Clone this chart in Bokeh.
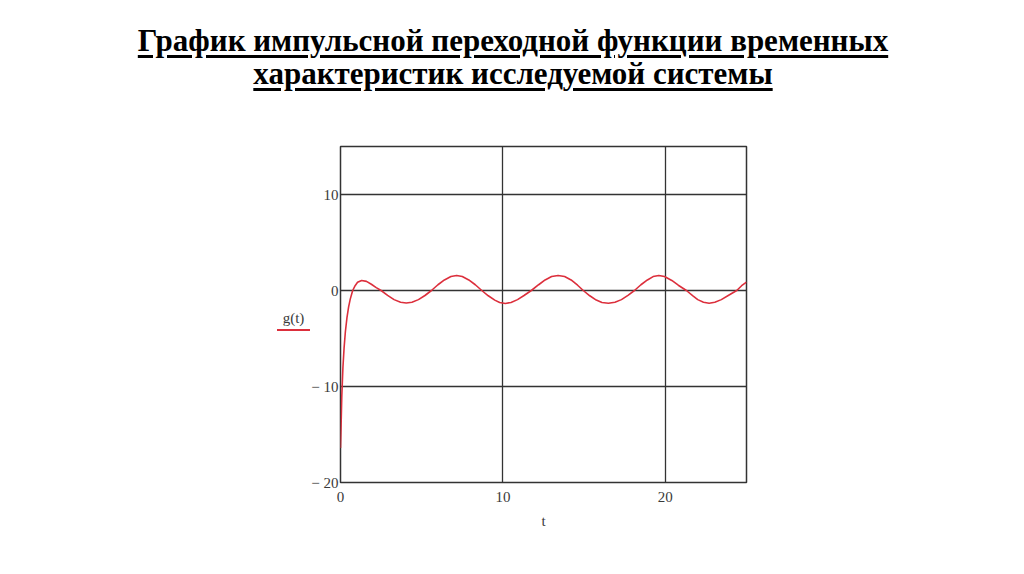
from bokeh.plotting import figure
from bokeh.models import Div, FixedTicker, Range1d
from bokeh.layouts import column
from bokeh.embed import file_html
from bokeh.resources import INLINE

# title lines
title_lines = ["График импульсной переходной функции временных",
               "характеристик исследуемой системы"]
trace_name = "g(t)"

# g(t)
t = [0.0, 0.03, 0.08, 0.15, 0.22, 0.3, 0.4, 0.5, 0.6, 0.75, 0.9, 1.05, 1.3,
     1.6, 1.9, 2.2, 2.5, 2.9, 3.3, 3.7, 4.05, 4.4, 4.8, 5.2, 5.6, 6.0, 6.4,
     6.8, 7.15, 7.5, 7.9, 8.3, 8.7, 9.1, 9.5, 9.8, 10.15, 10.5, 10.9, 11.3,
     11.75, 12.2, 12.6, 13.0, 13.4, 13.8, 14.2, 14.6, 14.95, 15.35, 15.75,
     16.1, 16.5, 16.9, 17.3, 17.7, 18.1, 18.5, 18.9, 19.25, 19.6, 19.95,
     20.4, 20.8, 21.3, 21.7, 22.0, 22.35, 22.7, 23.05, 23.45, 23.9, 24.4,
     24.7, 25.0]
g = [-16.4, -14.5, -11.0, -8.0, -6.0, -4.3, -2.8, -1.7, -0.9, 0.0, 0.5, 0.85,
     1.05, 0.95, 0.65, 0.3, 0.0, -0.5, -0.95, -1.22, -1.3, -1.22, -0.95,
     -0.52, 0.0, 0.6, 1.1, 1.45, 1.57, 1.45, 1.1, 0.6, 0.0, -0.55, -1.0,
     -1.25, -1.35, -1.25, -0.95, -0.52, 0.0, 0.6, 1.1, 1.45, 1.57, 1.45, 1.1,
     0.55, 0.0, -0.55, -1.0, -1.25, -1.33, -1.22, -0.95, -0.5, 0.0, 0.6, 1.1,
     1.45, 1.57, 1.45, 1.05, 0.55, 0.0, -0.55, -0.95, -1.22, -1.32, -1.22,
     -0.95, -0.5, 0.0, 0.5, 0.87]

x_ticks = [0, 10, 20]
y_ticks = [-20, -10, 0, 10]
y_tick_labels = {-20: "\u2212 20", -10: "\u2212 10", 0: "0", 10: "10"}

serif = "Liberation Serif"
grid_col = "#333333"
curve_col = "#dc2f3c"
text_col = "#3a3a3a"

title_html = ('<div style="width:1016px;font-family:\'%s\';font-weight:bold;'
              'font-size:31px;line-height:33px;text-align:center;color:#000;'
              'text-decoration:underline;text-decoration-thickness:3px;'
              'text-underline-offset:4px;padding-top:19px;">%s<br>%s</div>'
              % (serif, title_lines[0], title_lines[1]))
# Mathcad-style trace label left of the plot: name above a short red line
trace_html = ('<div style="position:absolute;left:272px;top:304px;width:33px;'
              'z-index:10;font-family:\'%s\';font-size:15px;line-height:18px;'
              'text-align:center;color:%s;">%s'
              '<div style="height:2px;margin-top:2px;background:%s;"></div>'
              '</div>' % (serif, text_col, trace_name, curve_col))

head = Div(text=title_html + trace_html, width=1016, height=110,
           styles={"overflow": "visible", "position": "relative",
                   "z-index": "10"})

p = figure(width=1016, height=440, output_backend="svg",
           toolbar_location=None,
           x_range=Range1d(0, 25), y_range=Range1d(-20, 15),
           min_border_left=340, min_border_right=270,
           min_border_top=26, min_border_bottom=78)

p.outline_line_color = grid_col
p.outline_line_width = 1.5

for ax in (p.xaxis, p.yaxis):
    ax.axis_line_color = None
    ax.major_tick_line_color = None
    ax.minor_tick_line_color = None
    ax.major_label_text_font = serif
    ax.major_label_text_font_size = "15px"
    ax.major_label_text_color = text_col
    ax.major_label_standoff = 3

p.xaxis.ticker = FixedTicker(ticks=x_ticks)
p.yaxis.ticker = FixedTicker(ticks=y_ticks)
p.yaxis.major_label_overrides = y_tick_labels
p.yaxis.major_label_standoff = -4

p.xaxis.axis_label = "t"
p.xaxis.axis_label_text_font = serif
p.xaxis.axis_label_text_font_style = "normal"
p.xaxis.axis_label_text_font_size = "15px"
p.xaxis.axis_label_text_color = text_col
p.xaxis.axis_label_standoff = 8

p.xgrid.ticker = FixedTicker(ticks=x_ticks)
p.ygrid.ticker = FixedTicker(ticks=y_ticks)
p.grid.grid_line_color = grid_col
p.grid.grid_line_width = 1.3

p.line(t, g, line_color=curve_col, line_width=1.6)

layout = column(head, p, spacing=0)
open("out.html", "w").write(file_html(layout, INLINE))
